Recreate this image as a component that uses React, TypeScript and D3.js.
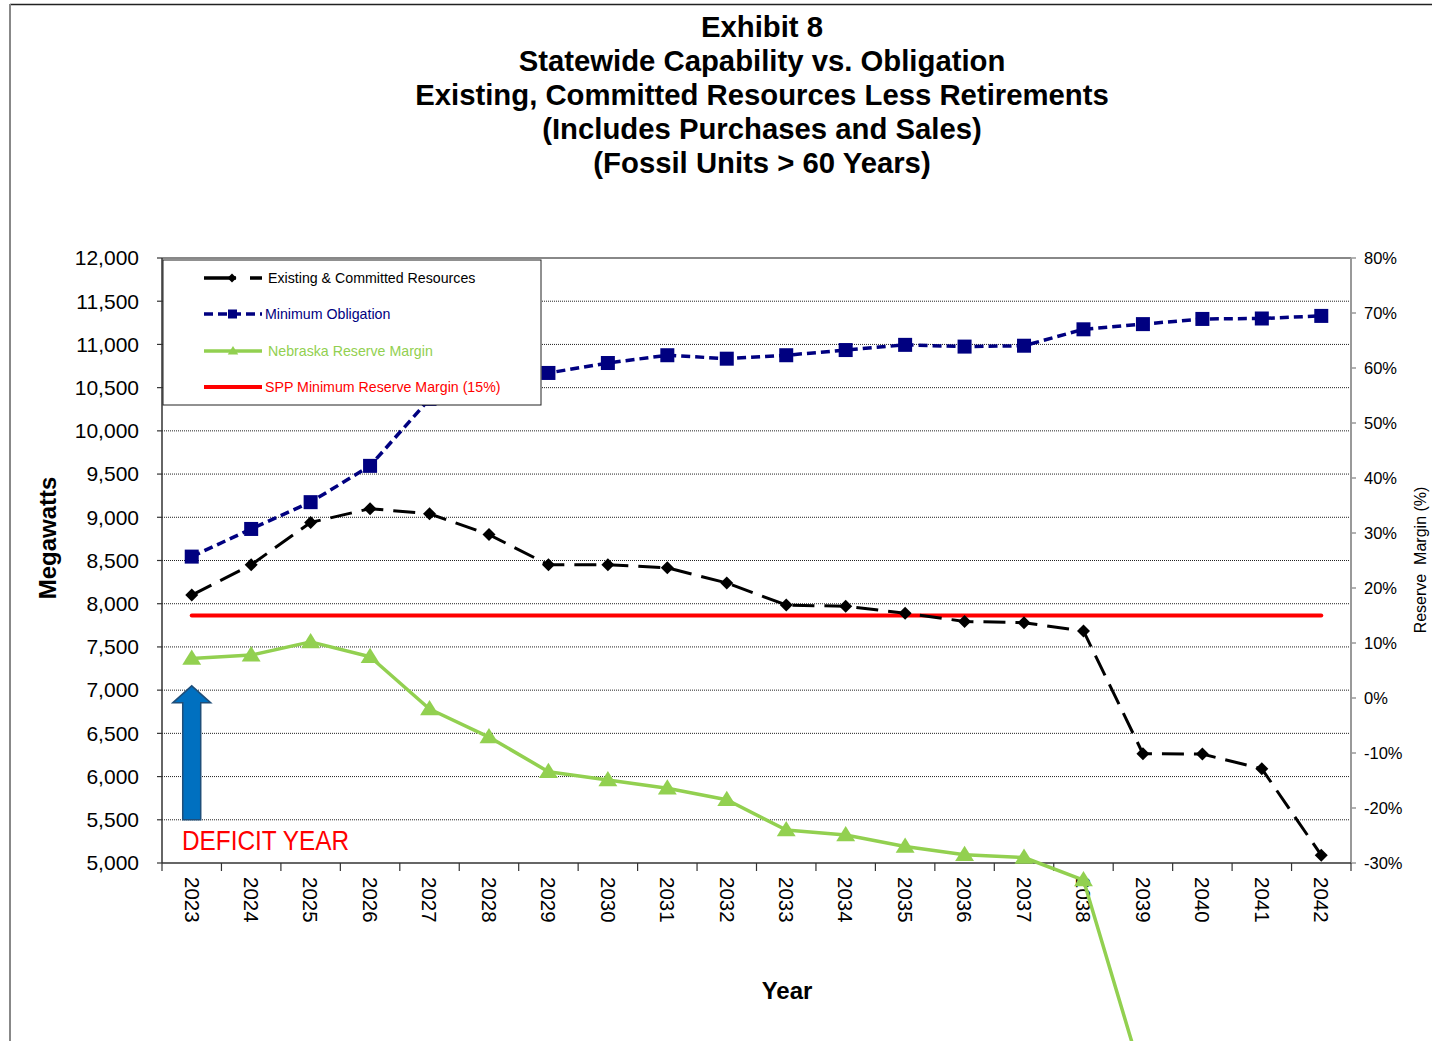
import React from "react";
import * as d3 from "d3";

const years = ["2023","2024","2025","2026","2027","2028","2029","2030","2031","2032","2033","2034","2035","2036","2037","2038","2039","2040","2041","2042"];
const existingCommitted = [8100, 8450, 8940, 9100, 9040, 8800, 8450, 8450, 8415, 8240, 7985, 7970, 7890, 7795, 7780, 7685, 6265, 6260, 6090, 5090];
const minimumObligation = [8545, 8865, 9175, 9595, 10370, 10560, 10670, 10785, 10875, 10835, 10875, 10935, 10995, 10975, 10985, 11175, 11235, 11295, 11300, 11330];
const nebraskaMargin: (number | null)[] = [7.2, 7.8, 10.2, 7.5, -2.0, -7.1, -13.4, -14.9, -16.4, -18.5, -24.0, -24.9, -27.0, -28.5, -29.0, -33.1, -69.3, null, null, null];
const sppMinimum = [15, 15, 15, 15, 15, 15, 15, 15, 15, 15, 15, 15, 15, 15, 15, 15, 15, 15, 15, 15];
const leftTicks = [5000, 5500, 6000, 6500, 7000, 7500, 8000, 8500, 9000, 9500, 10000, 10500, 11000, 11500, 12000];
const rightTicks = [-30, -20, -10, 0, 10, 20, 30, 40, 50, 60, 70, 80];
const titleLines = ["Exhibit 8", "Statewide Capability vs. Obligation", "Existing, Committed Resources Less Retirements", "(Includes Purchases and Sales)", "(Fossil Units > 60 Years)"];

const W = 1432, H = 1041;
const L = 162, R = 1351, T = 258, B = 863;
const FONT = "Liberation Sans, Arial, Helvetica, sans-serif";
const NAVY = "#000080";
const GREEN = "#92D050";
const RED = "#FF0000";

export default function App() {
  const x = d3.scaleBand<string>().domain(years).range([L, R]);
  const cx = (yr: string) => (x(yr) as number) + x.bandwidth() / 2;
  const yL = d3.scaleLinear().domain([5000, 12000]).range([B, T]);
  const yR = d3.scaleLinear().domain([-30, 80]).range([B, T]);

  const lineL = d3.line<number>().x((_, i) => cx(years[i])).y((d) => yL(d));
  const lineR = d3
    .line<number | null>()
    .defined((d) => d !== null)
    .x((_, i) => cx(years[i]))
    .y((d) => yR(d as number));

  const diamond = (px: number, py: number, s: number) =>
    `M${px},${py - s}L${px + s},${py}L${px},${py + s}L${px - s},${py}Z`;
  const triangle = (px: number, py: number, s: number) =>
    `M${px},${py - s}L${px + s * 1.05},${py + s * 0.7}L${px - s * 1.05},${py + s * 0.7}Z`;

  // arrow geometry
  const ax = cx(years[0]);
  const aTip = yL(7050);
  const aBase = yL(5500);
  const arrowPath = `M${ax - 9},${aBase}L${ax - 9},${aTip + 17}L${ax - 19},${aTip + 17}L${ax},${aTip}L${ax + 19},${aTip + 17}L${ax + 9},${aTip + 17}L${ax + 9},${aBase}Z`;

  const boundaries = [...years.map((yr) => x(yr) as number), R];

  const legendItems = [
    { label: "Existing & Committed Resources", color: "#000", textColor: "#000", dash: "32 14", kind: "diamond", tx: 268 },
    { label: "Minimum Obligation", color: NAVY, textColor: NAVY, dash: "9 5", kind: "square", tx: 265 },
    { label: "Nebraska Reserve Margin", color: GREEN, textColor: GREEN, dash: "", kind: "triangle", tx: 268 },
    { label: "SPP Minimum Reserve Margin (15%)", color: RED, textColor: RED, dash: "", kind: "none", tx: 265 },
  ];
  const legendY = [278, 314, 351, 387];

  return (
    <svg
      width={W}
      height={H}
      style={{ position: "absolute", left: 0, top: 0, background: "#fff", fontFamily: FONT }}
    >
      <rect x={0} y={0} width={W} height={H} fill="#fff" />
      {/* outer frame */}
      <line x1={10} y1={4.5} x2={W} y2={4.5} stroke="#222" strokeWidth={1.5} />
      <line x1={10} y1={4} x2={10} y2={H} stroke="#888" strokeWidth={2} />

      {/* title */}
      {titleLines.map((t, i) => (
        <text key={t} x={762} y={37 + i * 34} textAnchor="middle" fontSize={29.3} fontWeight="bold" fill="#000">
          {t}
        </text>
      ))}

      {/* gridlines */}
      {leftTicks.filter((v) => v > 5000 && v < 12000).map((v) => (
        <line key={v} x1={L} x2={R} y1={yL(v)} y2={yL(v)} stroke="#222" strokeWidth={1} strokeDasharray="1 1" />
      ))}
      <line x1={L} x2={R} y1={T} y2={T} stroke="#888" strokeWidth={2} />

      {/* left axis */}
      <line x1={L} x2={L} y1={T} y2={B} stroke="#333" strokeWidth={1.5} />
      {leftTicks.map((v) => (
        <g key={v}>
          <line x1={L - 5} x2={L} y1={yL(v)} y2={yL(v)} stroke="#333" strokeWidth={1.2} />
          <text x={139} y={yL(v)} dy="0.35em" textAnchor="end" fontSize={21} fill="#000">
            {d3.format(",")(v)}
          </text>
        </g>
      ))}
      <text transform={`translate(56,538) rotate(-90)`} textAnchor="middle" fontSize={24} fontWeight="bold" fill="#000">
        Megawatts
      </text>

      {/* right axis */}
      <line x1={R} x2={R} y1={T} y2={B} stroke="#999" strokeWidth={2} />
      {rightTicks.map((v) => (
        <g key={v}>
          <line x1={R} x2={R + 5} y1={yR(v)} y2={yR(v)} stroke="#999" strokeWidth={1.5} />
          <text x={1364} y={yR(v)} dy="0.35em" textAnchor="start" fontSize={16.5} fill="#000">
            {`${v}%`}
          </text>
        </g>
      ))}
      <text
        transform={`translate(1426,560) rotate(-90)`}
        textAnchor="middle"
        fontSize={16}
        fill="#000"
        style={{ whiteSpace: "pre" }}
      >
        {"Reserve  Margin (%)"}
      </text>

      {/* bottom axis */}
      <line x1={L} x2={R} y1={B} y2={B} stroke="#333" strokeWidth={1.5} />
      {boundaries.map((bx, i) => (
        <line key={i} x1={bx} x2={bx} y1={B} y2={B + 8} stroke="#333" strokeWidth={1.2} />
      ))}
      {years.map((yr) => (
        <text key={yr} transform={`translate(${cx(yr)},877) rotate(90)`} dy="0.35em" textAnchor="start" fontSize={20.5} fill="#000">
          {yr}
        </text>
      ))}
      <text x={787} y={999} textAnchor="middle" fontSize={24} fontWeight="bold" fill="#000">
        Year
      </text>

      {/* SPP minimum */}
      <path d={lineR(sppMinimum) || ""} fill="none" stroke={RED} strokeWidth={4} strokeLinecap="round" />

      {/* Nebraska reserve margin */}
      <path d={lineR(nebraskaMargin) || ""} fill="none" stroke={GREEN} strokeWidth={3.5} strokeLinejoin="round" />
      {nebraskaMargin.map((v, i) =>
        v === null ? null : <path key={i} d={triangle(cx(years[i]), yR(v), 9)} fill={GREEN} />
      )}

      {/* Existing & committed */}
      <path d={lineL(existingCommitted) || ""} fill="none" stroke="#000" strokeWidth={3} strokeDasharray="22 10" />
      {existingCommitted.map((v, i) => (
        <path key={i} d={diamond(cx(years[i]), yL(v), 6.5)} fill="#000" />
      ))}

      {/* Minimum obligation */}
      <path d={lineL(minimumObligation) || ""} fill="none" stroke={NAVY} strokeWidth={3.5} strokeDasharray="9 5" />
      {minimumObligation.map((v, i) => (
        <rect key={i} x={cx(years[i]) - 7} y={yL(v) - 7} width={14} height={14} fill={NAVY} />
      ))}

      {/* legend */}
      <rect x={163} y={260} width={378} height={145} fill="#fff" stroke="#222" strokeWidth={1} />
      {legendItems.map((it, i) => {
        const ly = legendY[i];
        return (
          <g key={it.label}>
            <line
              x1={204}
              x2={262}
              y1={ly}
              y2={ly}
              stroke={it.color}
              strokeWidth={it.kind === "none" ? 4 : 3.5}
              strokeDasharray={it.dash || undefined}
            />
            {it.kind === "diamond" && <path d={diamond(232, ly, 4.5)} fill="#000" />}
            {it.kind === "square" && <rect x={228} y={ly - 4.5} width={9} height={9} fill={NAVY} />}
            {it.kind === "triangle" && <path d={triangle(233, ly, 5)} fill={GREEN} />}
            <text x={it.tx} y={ly} dy="0.35em" fontSize={14.2} fill={it.textColor}>
              {it.label}
            </text>
          </g>
        );
      })}

      {/* deficit arrow */}
      <path d={arrowPath} fill="#0070C0" stroke="#1F4E79" strokeWidth={1.5} />
      <text
        x={182}
        y={850}
        fontSize={28}
        fill={RED}
        textLength={167}
        lengthAdjust="spacingAndGlyphs"
        fontFamily="Liberation Sans Narrow, Arial Narrow, Liberation Sans, Arial, sans-serif"
      >
        DEFICIT YEAR
      </text>
    </svg>
  );
}
